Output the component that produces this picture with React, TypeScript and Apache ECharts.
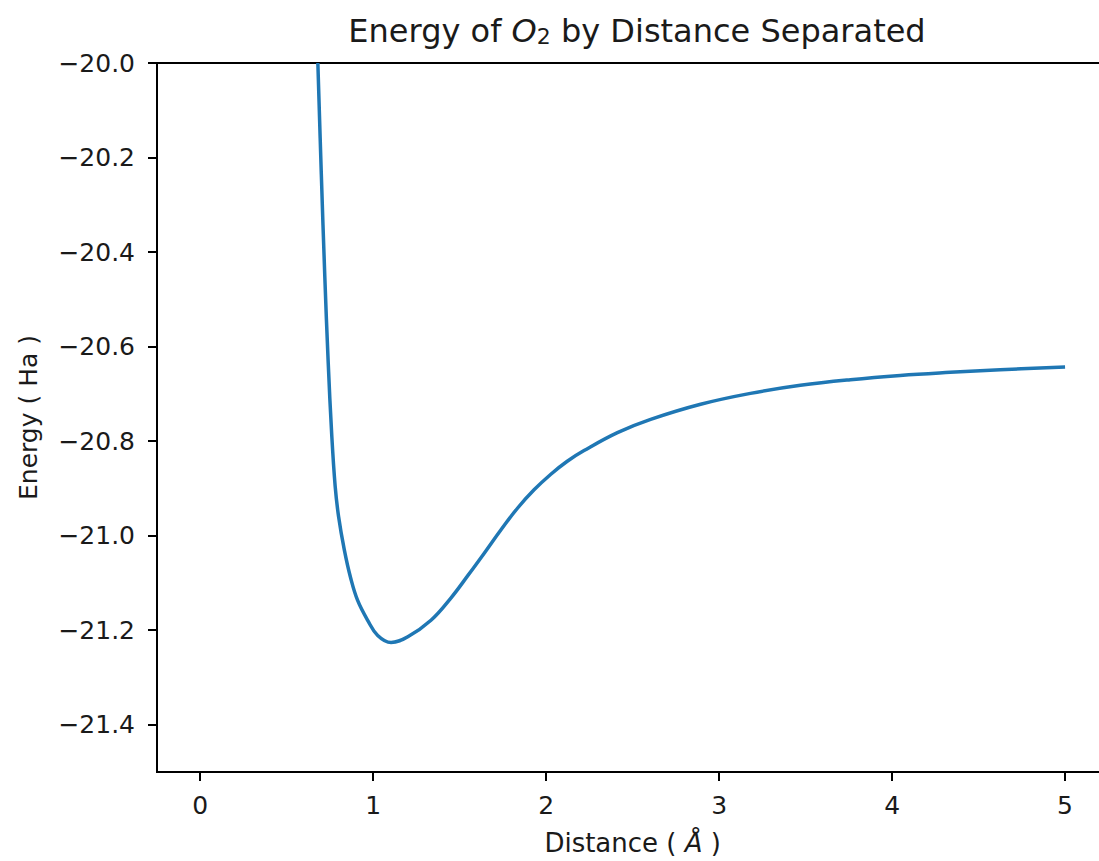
import React, { useEffect, useRef } from "react";
import * as echarts from "echarts";

const distances = [
  0.68, 0.7, 0.72, 0.74, 0.76, 0.78, 0.8, 0.833, 0.87, 0.91, 0.968, 1.026, 1.103,
  1.2, 1.334, 1.449, 1.55, 1.642, 1.74, 1.834, 1.93, 2.027, 2.12, 2.219, 2.412,
  2.604, 2.893, 3.181, 3.47, 3.759, 4.047, 4.336, 4.625, 5.0,
];
const energies = [
  -20.0, -20.235, -20.45, -20.635, -20.785, -20.895, -20.96, -21.03, -21.09,
  -21.137, -21.179, -21.211, -21.226, -21.214, -21.179, -21.132, -21.083, -21.037,
  -20.987, -20.942, -20.903, -20.87, -20.843, -20.82, -20.782, -20.754, -20.722,
  -20.699, -20.682, -20.67, -20.661, -20.6545, -20.649, -20.643,
];
const xTicks = [0, 1, 2, 3, 4, 5];
const yTicks = [-21.4, -21.2, -21.0, -20.8, -20.6, -20.4, -20.2, -20.0];
const X_MIN = -0.25;
const X_MAX = 5.25;
const Y_MIN = -21.5;
const Y_MAX = -20.0;

const FONT = "DejaVu Sans";
const INK = "#1a1a1a";

export default function App() {
  const ref = useRef<HTMLDivElement>(null);
  useEffect(() => {
    if (!ref.current) return;
    const chart = echarts.init(ref.current, undefined, { renderer: "svg" });
    const data = distances.map((d, i) => [d, energies[i]]);
    chart.setOption({
      animation: false,
      backgroundColor: "#ffffff",
      title: {
        text: "Energy of {i|O}{s|2} by Distance Separated",
        left: 632,
        textAlign: "center",
        top: 10,
        textStyle: {
          fontFamily: FONT,
          fontSize: 32,
          fontWeight: "normal",
          color: INK,
          rich: {
            i: { fontFamily: FONT, fontSize: 32, fontStyle: "italic", color: INK, lineHeight: 32 },
            s: { fontFamily: FONT, fontSize: 22, color: INK, verticalAlign: "bottom", lineHeight: 12 },
          },
        },
      },
      grid: {
        left: 157,
        top: 63,
        bottom: 89,
        right: 11.7,
        show: true,
        borderColor: "#000",
        borderWidth: 2,
        backgroundColor: "transparent",
      },
      xAxis: {
        type: "value",
        min: X_MIN,
        max: X_MAX,
        name: "Distance ( {i|Å} )",
        nameLocation: "middle",
        nameGap: 58,
        nameTextStyle: {
          fontFamily: FONT,
          fontSize: 26,
          color: INK,
          rich: { i: { fontFamily: FONT, fontSize: 26, fontStyle: "italic", color: INK } },
        },
        axisLine: { show: true, onZero: false, lineStyle: { color: "#000", width: 2 } },
        splitLine: { show: false },
        axisTick: { show: true, length: 9, lineStyle: { color: "#000", width: 2 }, customValues: xTicks },
        axisLabel: {
          customValues: xTicks,
          margin: 21,
          fontFamily: FONT,
          fontSize: 25,
          color: INK,
          formatter: (v: number) => String(v),
        },
      },
      yAxis: {
        type: "value",
        min: Y_MIN,
        max: Y_MAX,
        name: "Energy ( Ha )",
        nameLocation: "middle",
        nameGap: 116,
        nameTextStyle: { fontFamily: FONT, fontSize: 25, color: INK },
        axisLine: { show: true, onZero: false, lineStyle: { color: "#000", width: 2 } },
        splitLine: { show: false },
        axisTick: { show: true, length: 9, lineStyle: { color: "#000", width: 2 }, customValues: yTicks },
        axisLabel: {
          customValues: yTicks,
          margin: 22,
          fontFamily: FONT,
          fontSize: 25,
          color: INK,
          formatter: (v: number) => (v < 0 ? "\u2212" : "") + Math.abs(v).toFixed(1),
        },
      },
      series: [
        {
          type: "line",
          data,
          showSymbol: false,
          smooth: 0.4,
          clip: true,
          lineStyle: { color: "#1f77b4", width: 3.5 },
        },
      ],
    });
    return () => chart.dispose();
  }, []);
  return (
    <div style={{ position: "fixed", left: 0, top: 0, width: 1099, height: 861, overflow: "hidden", background: "#fff" }}>
      <div ref={ref} style={{ width: 1120, height: 861 }} />
    </div>
  );
}
